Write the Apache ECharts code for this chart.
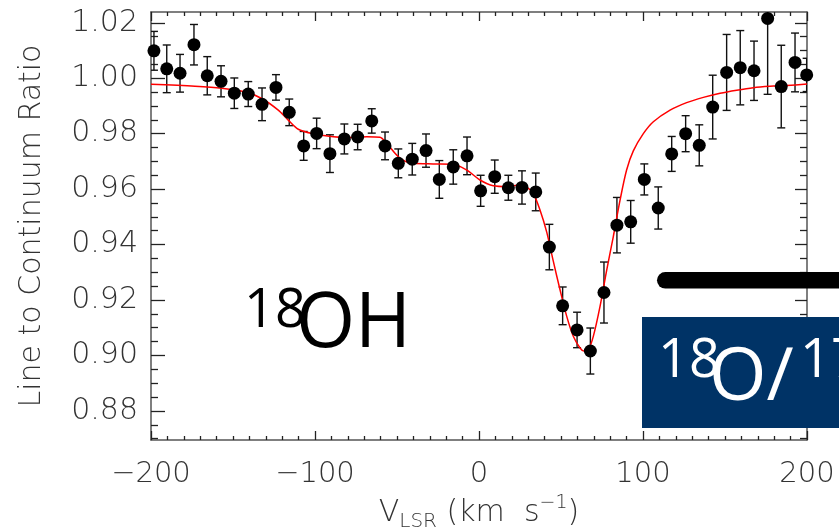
<!DOCTYPE html>
<html>
<head>
<meta charset="UTF-8">
<style>
html, body { margin: 0; padding: 0; background: #fff; }
#chart { width: 839px; height: 528px; }
</style>
</head>
<body>
<div id="chart"></div>
<script src="https://cdn.jsdelivr.net/npm/echarts@6/dist/echarts.min.js"></script>
<script>
// channel velocities (km/s), line/continuum ratio and 1-sigma errors
var vel = [-198.2, -190.4, -182.3, -173.8, -165.7, -157.3, -149.2, -140.7, -132.3, -123.8,
  -115.7, -106.9, -99.0, -90.9, -82.1, -74.0, -65.4, -57.3, -49.2, -40.7,
  -32.3, -24.2, -15.7, -7.3, 1.0, 9.6, 17.9, 26.2, 34.6, 42.9,
  51.0, 59.8, 67.9, 76.2, 84.1, 92.5, 100.8, 109.3, 117.5, 126.0,
  134.3, 142.5, 151.0, 159.3, 167.7, 176.0, 184.3, 192.7, 199.8];
var ratio = [1.0099, 1.0034, 1.0018, 1.0121, 1.0009, 0.9989, 0.9946, 0.9943, 0.9906, 0.9967,
  0.9877, 0.9756, 0.9801, 0.9728, 0.9781, 0.9788, 0.9846, 0.9756, 0.9693, 0.9708,
  0.9739, 0.9635, 0.9680, 0.9720, 0.9594, 0.9645, 0.9605, 0.9606, 0.9590, 0.9391,
  0.9179, 0.9092, 0.9016, 0.9227, 0.9470, 0.9482, 0.9635, 0.9532, 0.9727, 0.9800,
  0.9758, 0.9896, 1.0021, 1.0038, 1.0027, 1.0216, 0.9970, 1.0057, 1.0012];
var errs = [0.0070, 0.0086, 0.0068, 0.0073, 0.0069, 0.0056, 0.0055, 0.0045, 0.0059, 0.0046,
  0.0048, 0.0052, 0.0055, 0.0068, 0.0054, 0.0046, 0.0044, 0.0050, 0.0052, 0.0057,
  0.0060, 0.0068, 0.0062, 0.0068, 0.0056, 0.0060, 0.0045, 0.0060, 0.0068, 0.0082,
  0.0068, 0.0064, 0.0083, 0.0110, 0.0100, 0.0077, 0.0056, 0.0076, 0.0063, 0.0065,
  0.0074, 0.0115, 0.0137, 0.0134, 0.0107, 0.0274, 0.0149, 0.0106, 0.0060];

// fitted model
var fitVel = [-200, -173.2, -156.9, -142.7, -132.5, -122.4, -116.3, -110.2, -102, -88.8,
  -78.7, -68.5, -60.4, -56.3, -48.2, -40, -28, -15.7, -7.5, 0.6,
  8.7, 16.9, 25, 30.1, 33.1, 37.2, 41.3, 45.3, 49.4, 53.5,
  57.5, 61.6, 64, 66.7, 69.7, 73.8, 77.9, 81.9, 86, 90,
  94.1, 100.2, 106.3, 116.5, 126.6, 136.8, 147, 157.1, 167.3, 177.4,
  187.6, 200];
var fitRatio = [0.9978, 0.9971, 0.9964, 0.9951, 0.9927, 0.9885, 0.9849, 0.9816, 0.9801, 0.9789,
  0.9786, 0.9789, 0.9787, 0.9765, 0.9712, 0.9693, 0.9691, 0.9690, 0.9669, 0.9633,
  0.9612, 0.9609, 0.9615, 0.9603, 0.9585, 0.9525, 0.9445, 0.9340, 0.9237, 0.9141,
  0.9069, 0.9027, 0.9016, 0.9021, 0.9069, 0.9177, 0.9309, 0.9429, 0.9560, 0.9669,
  0.9738, 0.9800, 0.9843, 0.9885, 0.9912, 0.9931, 0.9946, 0.9957, 0.9966, 0.9971,
  0.9974, 0.9979];

var yTicks = [0.88, 0.90, 0.92, 0.94, 0.96, 0.98, 1.00, 1.02];
var yMinor = [];
for (var k = 174; k <= 204; k++) {   // every 0.005
  if (k % 4 != 0) yMinor.push(k * 0.005);
}

var chart = echarts.init(document.getElementById('chart'));
var font = 'DejaVu Sans';
var axisCol = '#555';
var textCol = '#333';

function yAx(pos, ticks, len, showLine) {
  return {
    type: 'value', position: pos, min: 0.8695, max: 1.0239,
    axisLine: { show: showLine, onZero: false, lineStyle: { color: axisCol, width: 1.5 } },
    axisTick: { show: true, inside: true, length: len, customValues: ticks,
      lineStyle: { color: '#222', width: 1.3 } },
    axisLabel: { show: false },
    splitLine: { show: false }
  };
}

function xAx(pos) {
  return {
    type: 'value', position: pos, min: -200, max: 200, interval: 100,
    axisLine: { show: true, onZero: false, lineStyle: { color: axisCol, width: 1.5 } },
    axisTick: { show: true, inside: true, length: 9, lineStyle: { color: '#222', width: 1.3 } },
    minorTick: { show: true, splitNumber: 10, length: 4, lineStyle: { color: '#222', width: 1.3 } },
    axisLabel: { show: false },
    splitLine: { show: false }
  };
}

var xBottom = xAx('bottom');
xBottom.axisLabel = {
  show: true, fontFamily: font, fontWeight: 200, fontSize: 29, color: textCol, margin: 20,
  formatter: function (v) { return String(v).replace('-', '\u2212'); }
};
xBottom.name = '{a|V}{s|LSR}{a| (km  s}{p|\u22121}{a|)}';
xBottom.nameLocation = 'middle';
xBottom.nameGap = 42;
xBottom.nameTextStyle = {
  rich: {
    a: { fontFamily: font, fontWeight: 200, fontSize: 30, color: textCol, lineHeight: 38, verticalAlign: 'middle' },
    s: { fontFamily: font, fontWeight: 200, fontSize: 20, color: textCol, lineHeight: 38, verticalAlign: 'bottom' },
    p: { fontFamily: font, fontWeight: 200, fontSize: 19, color: textCol, lineHeight: 38, verticalAlign: 'top' }
  }
};

var yLeft = yAx('left', yTicks, 14, true);
yLeft.axisLabel = {
  show: true, customValues: yTicks, fontFamily: font, fontWeight: 200, fontSize: 30,
  color: textCol, margin: 13,
  formatter: function (v) { return v.toFixed(2); }
};
yLeft.name = 'Line to Continuum Ratio';
yLeft.nameLocation = 'middle';
yLeft.nameGap = 104;
yLeft.nameTextStyle = { fontFamily: font, fontWeight: 200, fontSize: 30, color: textCol };

var errData = vel.map(function (v, i) { return [v, ratio[i], errs[i]]; });

var option = {
  animation: false,
  grid: { left: 151, top: 12, width: 656, height: 428, outerBoundsMode: 'none', containLabel: false },
  xAxis: [xBottom, xAx('top')],
  yAxis: [yLeft, yAx('left', yMinor, 7, false), yAx('right', yTicks, 12, true), yAx('right', yMinor, 7, false)],
  series: [
    {
      type: 'custom',
      clip: true,
      data: errData,
      renderItem: function (params, api) {
        var x = api.value(0), y = api.value(1), e = api.value(2);
        var hi = api.coord([x, y + e]);
        var lo = api.coord([x, y - e]);
        var w = 4;
        var st = { stroke: '#111', lineWidth: 1.4 };
        return {
          type: 'group',
          children: [
            { type: 'line', shape: { x1: hi[0], y1: hi[1], x2: lo[0], y2: lo[1] }, style: st },
            { type: 'line', shape: { x1: hi[0] - w, y1: hi[1], x2: hi[0] + w, y2: hi[1] }, style: st },
            { type: 'line', shape: { x1: lo[0] - w, y1: lo[1], x2: lo[0] + w, y2: lo[1] }, style: st }
          ]
        };
      },
      z: 2
    },
    {
      type: 'line',
      data: fitVel.map(function (v, i) { return [v, fitRatio[i]]; }),
      smooth: 0.3,
      showSymbol: false,
      lineStyle: { color: '#ff0000', width: 1.5 },
      z: 3
    },
    {
      type: 'scatter',
      data: vel.map(function (v, i) { return [v, ratio[i]]; }),
      symbol: 'circle',
      symbolSize: 13,
      itemStyle: { color: '#000', opacity: 1 },
      clip: true,
      z: 4
    }
  ],
  graphic: [
    { type: 'text', left: 244, top: 285, z: 10,
      style: { text: '18', font: '54px "Open Sans"', fill: '#000' } },
    { type: 'text', left: 296, top: 287, z: 10,
      style: { text: 'OH', font: '76px "Open Sans"', fill: '#000' } },
    { type: 'rect', z: 10, shape: { x: 657, y: 272, width: 220, height: 16.6, r: [8.3, 0, 0, 8.3] },
      style: { fill: '#000' } },
    { type: 'rect', z: 10, shape: { x: 642, y: 317, width: 220, height: 111 },
      style: { fill: '#003366' } },
    { type: 'text', left: 658, top: 335, z: 11,
      style: { text: '18', font: '54px "Open Sans"', fill: '#fff' } },
    { type: 'text', left: 709, top: 342, z: 11,
      style: { text: 'O/', font: '74px "Open Sans"', fill: '#fff' } },
    { type: 'text', left: 800, top: 335, z: 11,
      style: { text: '17', font: '54px "Open Sans"', fill: '#fff' } }
  ]
};
chart.setOption(option);
</script>
</body>
</html>
